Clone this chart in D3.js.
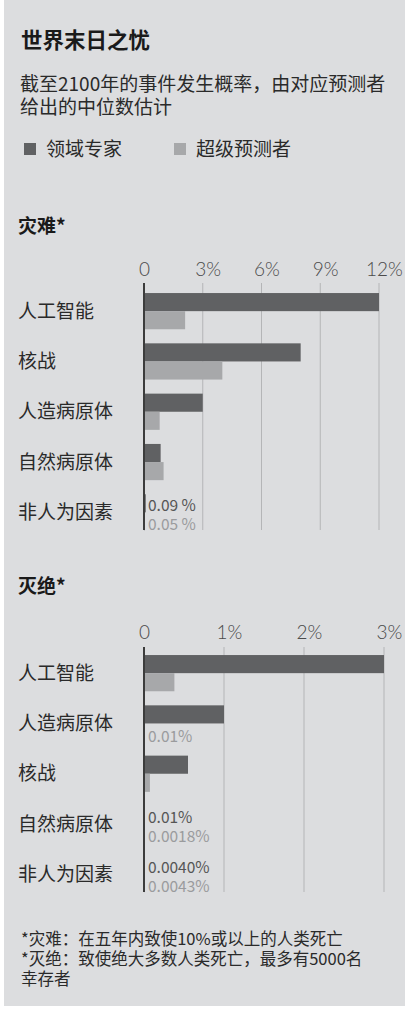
<!DOCTYPE html>
<html>
<head>
<meta charset="utf-8">
<script src="https://cdn.jsdelivr.net/npm/d3@7"></script>
<style>
  html, body { margin: 0; padding: 0; background: #fff; }
  svg { display: block; font-family: "Noto Sans CJK SC", "Noto Sans", sans-serif; }
</style>
</head>
<body>
<div id="chart"></div>
<script>
// data (percent)
const catastropheCats = ["人工智能", "核战", "人造病原体", "自然病原体", "非人为因素"];
const catastropheExperts = [12, 8, 3, 0.85, 0.09];
const catastropheSuper = [2.1, 4, 0.8, 1, 0.05];
const catastropheExpertLabels = ["", "", "", "", "0.09 %"];
const catastropheSuperLabels = ["", "", "", "", "0.05 %"];
const catastropheTicks = [0, 3, 6, 9, 12];

const extinctionCats = ["人工智能", "人造病原体", "核战", "自然病原体", "非人为因素"];
const extinctionExperts = [3, 1, 0.55, 0.01, 0.004];
const extinctionSuper = [0.38, 0.01, 0.074, 0.0018, 0.0043];
const extinctionExpertLabels = ["", "", "", "0.01%", "0.0040%"];
const extinctionSuperLabels = ["", "0.01%", "", "0.0018%", "0.0043%"];
const extinctionTicks = [0, 1, 2, 3];

const seriesNames = ["领域专家", "超级预测者"];

const width = 407, height = 1012;
const darkColor = "#606163", lightColor = "#a7a8aa", bg = "#dcdddf";

let svg = d3.select("#chart").append("svg")
  .attr("width", width)
  .attr("height", height);

svg.append("rect").attr("x", 4).attr("y", 0).attr("width", 401).attr("height", 1006).attr("fill", bg);

// header
svg.append("text").attr("x", 21).attr("y", 48)
  .attr("font-size", 21.5).attr("font-weight", 700).attr("fill", "#1a1a1a")
  .text("世界末日之忧");
svg.append("text").attr("x", 20).attr("y", 91)
  .attr("font-size", 19).attr("fill", "#2a2a2a")
  .text("截至2100年的事件发生概率，由对应预测者");
svg.append("text").attr("x", 20).attr("y", 114)
  .attr("font-size", 19).attr("fill", "#2a2a2a")
  .text("给出的中位数估计");

// legend
let legendX = [24, 174];
seriesNames.forEach(function(name, i) {
  svg.append("rect").attr("x", legendX[i]).attr("y", 143).attr("width", 12).attr("height", 12)
    .attr("fill", i === 0 ? darkColor : lightColor);
  svg.append("text").attr("x", legendX[i] + 22).attr("y", 156)
    .attr("font-size", 19).attr("fill", "#2a2a2a").text(name);
});

function drawChart(opts) {
  let g = svg.append("g");

  g.append("text").attr("x", 18).attr("y", opts.headY)
    .attr("font-size", 19).attr("font-weight", 700).attr("fill", "#1a1a1a")
    .text(opts.heading);

  let x = d3.scaleLinear()
    .domain([0, opts.ticks[opts.ticks.length - 1]])
    .range([144, opts.xMax]);

  let y = d3.scaleBand()
    .domain(opts.cats)
    .range([opts.top, opts.top + opts.cats.length * 50.3])
    .paddingInner(0.28)
    .paddingOuter(0.14);

  // gridlines
  g.selectAll(".grid")
    .data(opts.ticks.slice(1))
    .join("line")
    .attr("x1", d => x(d)).attr("x2", d => x(d))
    .attr("y1", opts.gridTop).attr("y2", opts.gridBottom)
    .attr("stroke", "#b4b5b7").attr("stroke-width", 1);

  // tick labels via axis
  let axis = d3.axisTop(x)
    .tickValues(opts.ticks)
    .tickSize(0)
    .tickFormat(d => d === 0 ? "0" : d + "%");
  let ax = g.append("g")
    .attr("transform", "translate(0," + opts.tickY + ")")
    .call(axis);
  ax.select(".domain").remove();
  ax.selectAll("text")
    .attr("font-size", 19)
    .attr("font-family", "Lato, 'Noto Sans', sans-serif")
    .attr("font-weight", 300)
    .attr("fill", "#4a4a4a")
    .attr("dy", 0)
    .attr("dx", d => d === 0 ? 0 : 5);

  let h = y.bandwidth() / 2;

  g.selectAll(".bar-expert")
    .data(opts.cats)
    .join("rect")
    .attr("x", x(0))
    .attr("y", d => y(d))
    .attr("width", (d, i) => x(opts.experts[i]) - x(0))
    .attr("height", h)
    .attr("fill", darkColor);

  g.selectAll(".bar-super")
    .data(opts.cats)
    .join("rect")
    .attr("x", x(0))
    .attr("y", d => y(d) + h)
    .attr("width", (d, i) => x(opts.supers[i]) - x(0))
    .attr("height", h)
    .attr("fill", lightColor);

  // zero axis
  g.append("line")
    .attr("x1", x(0)).attr("x2", x(0))
    .attr("y1", opts.gridTop).attr("y2", opts.gridBottom)
    .attr("stroke", "#3c3c3c").attr("stroke-width", 2);

  // category labels
  g.selectAll(".cat")
    .data(opts.cats)
    .join("text")
    .attr("x", 18)
    .attr("y", d => y(d) + h - 2)
    .attr("dominant-baseline", "central")
    .attr("font-size", 19)
    .attr("fill", "#2a2a2a")
    .text(d => d);

  // value labels for tiny bars
  g.selectAll(".lab-expert")
    .data(opts.cats)
    .join("text")
    .attr("x", 148)
    .attr("y", d => y(d) + h / 2 + 1)
    .attr("dominant-baseline", "central")
    .attr("font-size", 15.5)
    .attr("fill", "#555")
    .text((d, i) => opts.expertLabels[i]);

  g.selectAll(".lab-super")
    .data(opts.cats)
    .join("text")
    .attr("x", 148)
    .attr("y", d => y(d) + h * 1.5 + 2)
    .attr("dominant-baseline", "central")
    .attr("font-size", 15.5)
    .attr("fill", "#9a9b9d")
    .text((d, i) => opts.superLabels[i]);
}

drawChart({
  heading: "灾难*", headY: 233,
  cats: catastropheCats, experts: catastropheExperts, supers: catastropheSuper,
  expertLabels: catastropheExpertLabels, superLabels: catastropheSuperLabels,
  ticks: catastropheTicks, xMax: 379,
  tickY: 279, gridTop: 283, gridBottom: 530, top: 286
});

drawChart({
  heading: "灭绝*", headY: 593,
  cats: extinctionCats, experts: extinctionExperts, supers: extinctionSuper,
  expertLabels: extinctionExpertLabels, superLabels: extinctionSuperLabels,
  ticks: extinctionTicks, xMax: 384,
  tickY: 642, gridTop: 647, gridBottom: 892, top: 648
});

// footnotes
let notes = ["*灾难：在五年内致使10%或以上的人类死亡", "*灭绝：致使绝大多数人类死亡，最多有5000名", "幸存者"];
svg.selectAll(".note")
  .data(notes)
  .join("text")
  .attr("x", 21)
  .attr("y", (d, i) => 945 + i * 20)
  .attr("font-size", 16.5)
  .attr("fill", "#2a2a2a")
  .text(d => d);
</script>
</body>
</html>
